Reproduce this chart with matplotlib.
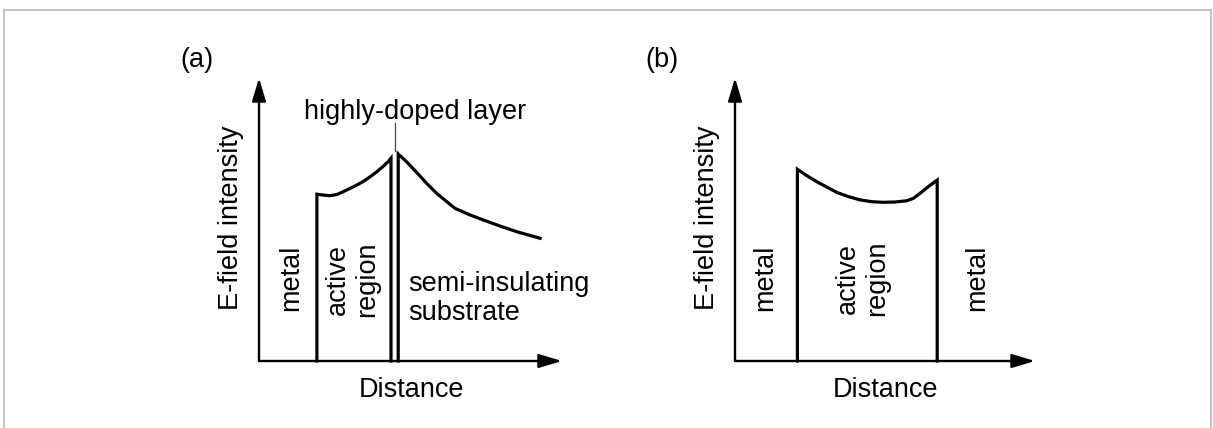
import matplotlib
matplotlib.use("Agg")
import matplotlib.pyplot as plt
from matplotlib.lines import Line2D

plt.rcParams['font.family'] = ['Liberation Sans', 'DejaVu Sans']

# painel (a): contato metal / região ativa / camada dopada / substrato
a_borda = 19.3          # fronteira metal | região ativa
a_camada = (44.0, 46.4)  # camada altamente dopada (duas linhas)
a_ativa_x = [19.3, 21.5, 23.7, 26.0, 28.0, 30.3, 32.7, 35.0, 37.0, 39.2, 41.3, 43.0, 44.0]
a_ativa_y = [55.6, 55.3, 55.1, 55.5, 56.4, 57.5, 58.7, 60.0, 61.4, 63.0, 64.8, 66.4, 67.6]
a_subst_x = [46.4, 49.2, 52.6, 55.9, 59.2, 62.6, 65.3, 70.3, 74.8, 80.3, 85.9, 93.7]
a_subst_y = [69.0, 66.4, 62.8, 59.2, 55.9, 53.1, 50.9, 48.7, 47.0, 45.0, 43.1, 40.9]

# painel (b): metal / região ativa / metal
b_ativa_x = [20.8, 23.9, 27.2, 30.6, 33.9, 37.8, 41.7, 45.6, 49.4, 53.3, 57.2, 59.4, 61.7, 64.4, 67.4]
b_ativa_y = [63.9, 61.8, 59.8, 58.0, 56.2, 54.8, 53.7, 53.1, 52.9, 53.0, 53.4, 54.2, 55.9, 58.1, 60.3]

FS = 19.5
LW_EIXO = 1.7
LW_CURVA = 2.3

fig = plt.figure(figsize=(12.13, 4.28), dpi=100)

# moldura cinza (sem borda de baixo)
for xs, ys in [([4 / 1213, 1211 / 1213], [1 - 10 / 428, 1 - 10 / 428]),
               ([4 / 1213, 4 / 1213], [0, 1 - 10 / 428]),
               ([1211 / 1213, 1211 / 1213], [0, 1 - 10 / 428])]:
    fig.add_artist(Line2D(xs, ys, transform=fig.transFigure, color='#c4c4c4', lw=1.5))


def eixos(left_px, width_px):
    ax = fig.add_axes([left_px / 1213, 67 / 428, width_px / 1213, 283 / 428])
    xmax = width_px / 3
    ymax = 283 / 3
    ax.set_xlim(0, xmax)
    ax.set_ylim(0, ymax)
    ax.axis('off')
    seta = dict(arrowstyle='-|>,head_length=1.4,head_width=0.42', mutation_scale=10,
                lw=LW_EIXO, color='black', shrinkA=0, shrinkB=0)
    ax.annotate('', xy=(xmax, 0), xytext=(0, 0), arrowprops=seta, annotation_clip=False)
    ax.annotate('', xy=(0, ymax), xytext=(0, 0), arrowprops=seta, annotation_clip=False)
    ax.text(xmax / 2 + 0.2, -12, 'Distance', ha='center', va='baseline', fontsize=FS, clip_on=False)
    ax.text(-9.3, 47.7, 'E-field intensity', rotation=90, ha='center', va='center',
            fontsize=FS, clip_on=False)
    return ax


# ---- (a)
ax = eixos(259, 303)
ax.text(-20.7, 100.3, '(a)', ha='center', va='center', fontsize=FS, clip_on=False)
ax.plot([a_borda] + a_ativa_x + [a_camada[0]], [0] + a_ativa_y + [0],
        color='black', lw=LW_CURVA, solid_joinstyle='miter', clip_on=False)
ax.plot([a_camada[1]] + a_subst_x, [0] + a_subst_y,
        color='black', lw=LW_CURVA, solid_joinstyle='miter', clip_on=False)
ax.plot([45.3, 45.3], [70.0, 79.5], color='#444444', lw=0.9, clip_on=False)
ax.text(52, 80.6, 'highly-doped layer', ha='center', va='baseline', fontsize=FS, clip_on=False)
ax.text(10.7, 27.7, 'metal', rotation=90, ha='center', va='center', fontsize=FS)
ax.text(31.2, 27.2, 'active\nregion', rotation=90, ha='center', va='center', fontsize=FS)
ax.text(49.7, 20.7, 'semi-insulating\nsubstrate', ha='left', va='center', fontsize=FS,
        linespacing=1.15, clip_on=False)

# ---- (b)
ax = eixos(735, 300)
ax.text(-24.3, 100.3, '(b)', ha='center', va='center', fontsize=FS, clip_on=False)
ax.plot([b_ativa_x[0]] + b_ativa_x + [b_ativa_x[-1]], [0] + b_ativa_y + [0],
        color='black', lw=LW_CURVA, solid_joinstyle='miter', clip_on=False)
ax.text(10.0, 27.7, 'metal', rotation=90, ha='center', va='center', fontsize=FS)
ax.text(42.5, 27.5, 'active\nregion', rotation=90, ha='center', va='center', fontsize=FS)
ax.text(80.7, 27.7, 'metal', rotation=90, ha='center', va='center', fontsize=FS)

fig.savefig('out.png', dpi=100, facecolor='white')
